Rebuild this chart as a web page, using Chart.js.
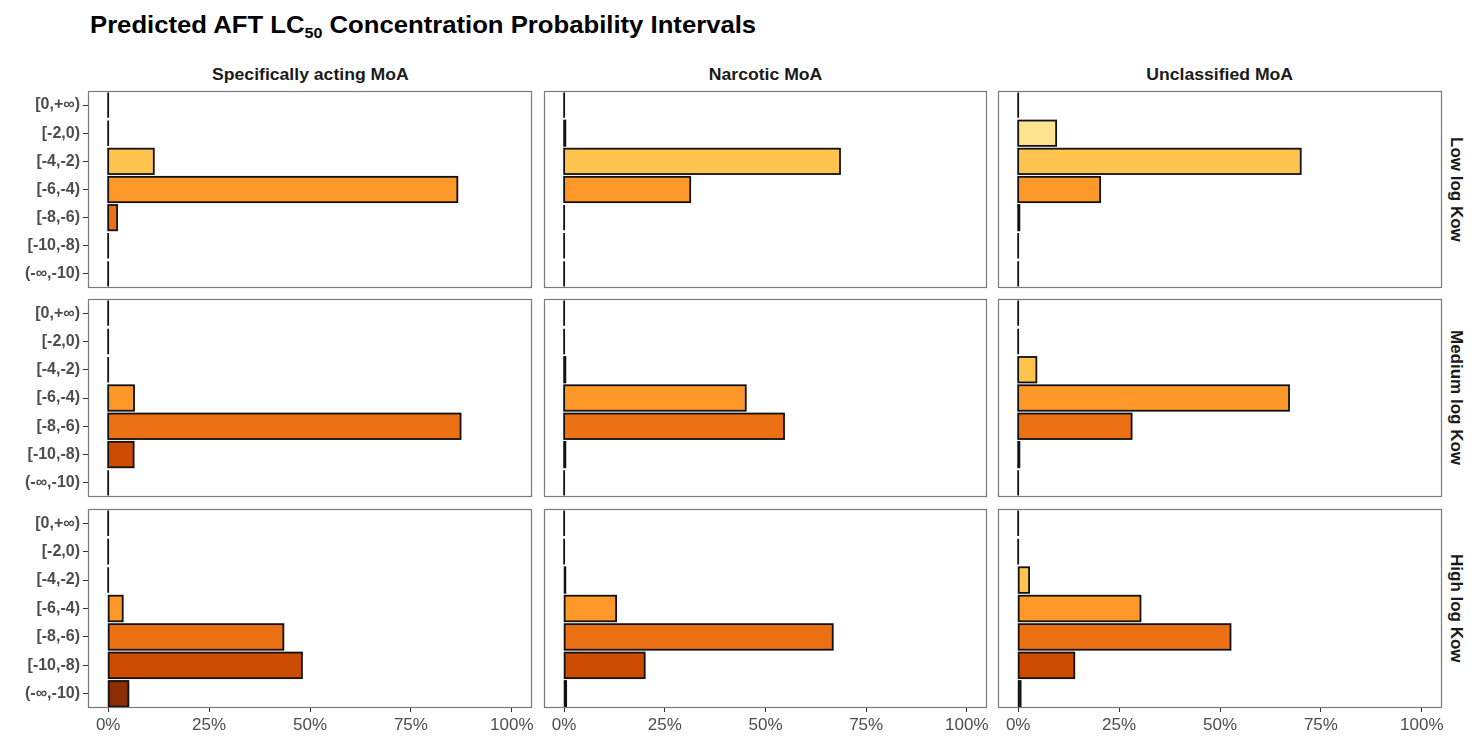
<!DOCTYPE html>
<html>
<head>
<meta charset="utf-8">
<script src="https://cdn.jsdelivr.net/npm/chart.js@4"></script>
<style>
  html, body { margin:0; padding:0; background:#fff; }
  body { width:1479px; height:741px; position:relative; overflow:hidden; font-family:"Liberation Sans", Arial, sans-serif; }
  canvas { position:absolute; }
  .title { position:absolute; left:90px; top:11px; font-size:24px; font-weight:bold; color:#000; white-space:nowrap; transform:scaleX(1.07); transform-origin:left top; }
  .title sub { font-size:15px; vertical-align:-5px; line-height:0; }
  .strip { position:absolute; font-size:16px; font-weight:bold; color:#1a1a1a; text-align:center; white-space:nowrap; }
  .strip span { display:inline-block; transform:scaleX(1.1); }
  .rstrip { position:absolute; font-size:17px; font-weight:bold; color:#1a1a1a; writing-mode:vertical-rl; text-align:center; white-space:nowrap; }
</style>
</head>
<body>
<div class="title">Predicted AFT LC<sub>50</sub> Concentration Probability Intervals</div>
<div id="root"></div>
<script>
// ---- data ----
const categories = ['[0,+\u221e)','[-2,0)','[-4,-2)','[-6,-4)','[-8,-6)','[-10,-8)','(-\u221e,-10)'];
const categoryColors = ['#FFFFD4','#FEE391','#FEC44F','#FE9929','#EC7014','#CC4C02','#8C2D04'];
const moaLabels = ['Specifically acting MoA','Narcotic MoA','Unclassified MoA'];
const kowLabels = ['Low log Kow','Medium log Kow','High log Kow'];
const xTickValues = [0,25,50,75,100];

const lowSpecific        = [0, 0,   11.3, 86.5, 2.2,  0,    0];
const lowNarcotic        = [0, 0.3, 68.5, 31.3, 0,    0,    0];
const lowUnclassified    = [0, 9.4, 70.0, 20.3, 0.3,  0,    0];
const mediumSpecific     = [0, 0,   0,    6.4,  87.3, 6.3,  0];
const mediumNarcotic     = [0, 0,   0.3,  45.1, 54.6, 0.3,  0];
const mediumUnclassified = [0, 0,   4.5,  67.1, 28.1, 0.3,  0];
const highSpecific       = [0, 0,   0,    3.6,  43.4, 48.0, 5.0];
const highNarcotic       = [0, 0,   0.3,  12.9, 66.7, 20.0, 0.5];
const highUnclassified   = [0, 0,   2.7,  30.3, 52.6, 13.9, 0.6];

const panelValues = [
  [lowSpecific, lowNarcotic, lowUnclassified],
  [mediumSpecific, mediumNarcotic, mediumUnclassified],
  [highSpecific, highNarcotic, highUnclassified]
];

// ---- layout ----
const FONT = '"Liberation Sans", Arial, sans-serif';
const colBox = [[88,532],[544,987],[998,1442]];
const rowBox = [[91,288],[299,497],[509,707]];
const Y_AXIS_W = 88;
const X_AXIS_H = 32;

const outlinePlugin = {
  id: 'outline',
  afterDatasetsDraw(chart) {
    const ctx = chart.ctx;
    ctx.save();
    ctx.strokeStyle = '#111';
    ctx.lineWidth = 1.8;
    chart.getDatasetMeta(0).data.forEach(el => {
      const p = el.getProps(['x','y','base','height'], true);
      const l = Math.min(p.x, p.base), w = Math.abs(p.x - p.base);
      ctx.strokeRect(l, p.y - p.height/2, w, p.height);
    });
    ctx.restore();
  },
  afterDraw(chart) {
    const a = chart.chartArea, ctx = chart.ctx;
    ctx.save();
    ctx.strokeStyle = '#7a7a7a';
    ctx.lineWidth = 1.2;
    ctx.strokeRect(a.left + 0.5, a.top + 0.5, a.right - a.left - 1, a.bottom - a.top - 1);
    ctx.restore();
  }
};

const root = document.getElementById('root');
for (let r = 0; r < 3; r++) {
  for (let c = 0; c < 3; c++) {
    const showY = c === 0, showX = r === 2;
    const left = showY ? 0 : colBox[c][0] - 1;
    const width = colBox[c][1] + 1 - left;
    const top = rowBox[r][0] - 1;
    const height = rowBox[r][1] - rowBox[r][0] + 2 + (showX ? X_AXIS_H : 0);
    const cv = document.createElement('canvas');
    cv.width = width; cv.height = height;
    cv.style.left = left + 'px'; cv.style.top = top + 'px';
    cv.style.width = width + 'px'; cv.style.height = height + 'px';
    root.appendChild(cv);
    new Chart(cv, {
      type: 'bar',
      data: {
        labels: categories,
        datasets: [{
          data: panelValues[r][c],
          backgroundColor: categoryColors,
          borderWidth: 0,
          barPercentage: 0.9,
          categoryPercentage: 1.0
        }]
      },
      options: {
        indexAxis: 'y',
        responsive: false,
        animation: false,
        devicePixelRatio: 1,
        layout: { padding: { left: showY ? 0 : 1, right: 1, top: 1, bottom: showX ? 0 : 1 } },
        plugins: { legend: { display: false }, tooltip: { enabled: false }, title: { display: false } },
        scales: {
          x: {
            type: 'linear', min: -5, max: 105,
            display: showX,
            afterBuildTicks: s => { s.ticks = xTickValues.map(v => ({ value: v })); },
            afterFit: s => { if (showX) { s.height = X_AXIS_H; } s.paddingLeft = 0; s.paddingRight = 0; },
            grid: { display: true, drawOnChartArea: false, drawTicks: true, tickLength: 4, color: '#333', tickColor: '#333' },
            border: { display: false },
            ticks: { color: '#4d4d4d', font: { family: FONT, size: 17 }, padding: 3, maxRotation: 0, autoSkip: false, callback: v => v + '%' }
          },
          y: {
            type: 'category', offset: true,
            display: showY,
            afterFit: s => { if (showY) { s.width = Y_AXIS_W; } s.paddingTop = 0; s.paddingBottom = 0; },
            grid: { display: true, offset: false, drawOnChartArea: false, drawTicks: true, tickLength: 5, color: '#333', tickColor: '#333' },
            border: { display: false },
            ticks: { color: '#4d4d4d', font: { family: FONT, size: 16, weight: 'bold' }, padding: 3, autoSkip: false }
          }
        }
      },
      plugins: [outlinePlugin]
    });
  }
}

// strip labels
moaLabels.forEach((t, c) => {
  const d = document.createElement('div');
  d.className = 'strip';
  d.innerHTML = '<span>' + t + '</span>';
  d.style.left = colBox[c][0] + 'px';
  d.style.width = (colBox[c][1] - colBox[c][0]) + 'px';
  d.style.top = '66px';
  root.appendChild(d);
});
kowLabels.forEach((t, r) => {
  const d = document.createElement('div');
  d.className = 'rstrip';
  d.textContent = t;
  d.style.left = '1445px';
  d.style.width = '22px';
  d.style.top = rowBox[r][0] + 'px';
  d.style.height = (rowBox[r][1] - rowBox[r][0]) + 'px';
  d.style.display = 'flex';
  d.style.alignItems = 'center';
  d.style.justifyContent = 'center';
  root.appendChild(d);
});
</script>
</body>
</html>
